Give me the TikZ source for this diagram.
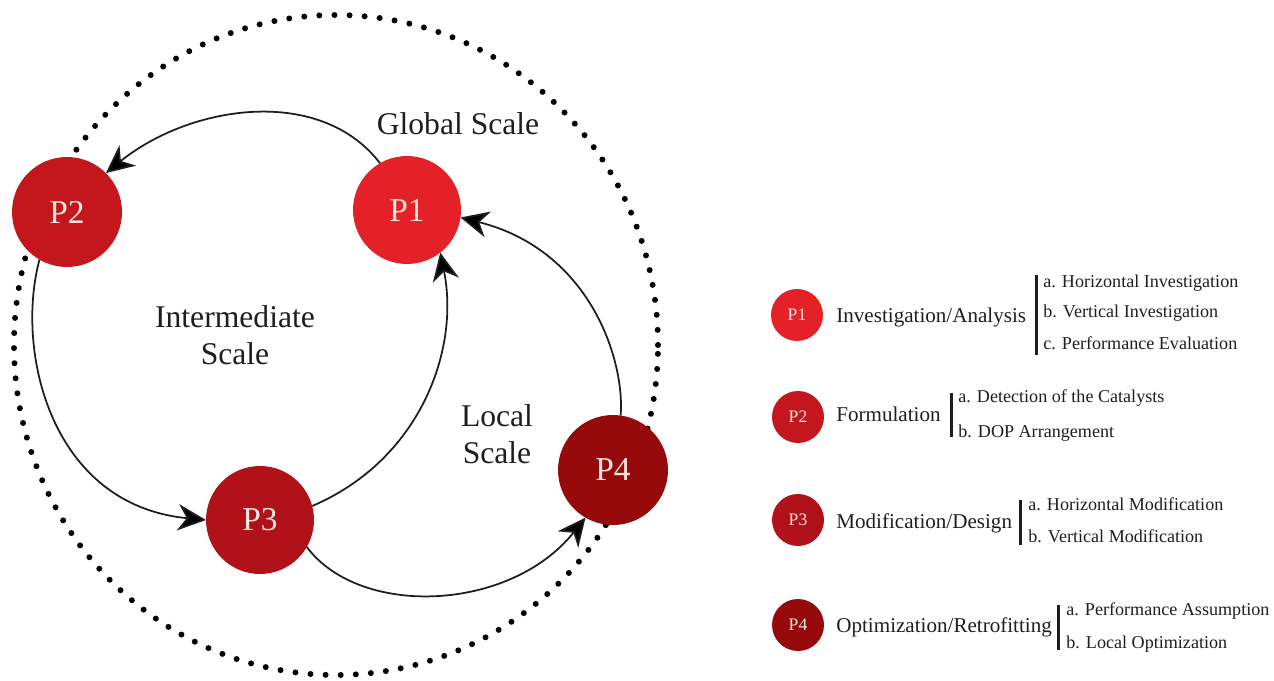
\documentclass[tikz,border=0pt]{standalone}
\usepackage{fontspec}
\setmainfont{Liberation Serif}
\usetikzlibrary{arrows.meta}
\definecolor{cpone}{HTML}{E42127}
\definecolor{cptwo}{HTML}{C3161D}
\definecolor{cpthree}{HTML}{B11219}
\definecolor{cpfour}{HTML}{960A0C}
\definecolor{ptext}{HTML}{F8E6E0}
\definecolor{ink}{HTML}{1E1E1E}
\begin{document}
\begin{tikzpicture}[x=0.02cm,y=0.02cm,
  phase/.style={circle, inner sep=0pt, outer sep=0pt, minimum size=#1, text=ptext},
  big/.style={phase=2.16cm, font=\fontsize{19}{22}\selectfont},
  small/.style={phase=1.04cm, font=\fontsize{10}{12}\selectfont},
  flow/.style={line width=1pt, draw=ink, -{Stealth[length=16pt,width=15pt,inset=5pt,fill=black]}},
  ring/.style={line width=3.4pt, line cap=round, dash pattern=on 0pt off 8.6pt},
  scalelbl/.style={font=\fontsize{18}{21}\selectfont, align=center, text=ink, inner sep=0pt},
  mainlbl/.style={anchor=base west, font=\fontsize{12}{14}\selectfont, inner sep=0pt, text=ink},
  sublbl/.style={anchor=base west, font=\fontsize{10.3}{12}\selectfont, inner sep=0pt, text=ink},
  legbar/.style={line width=1.7pt, draw=ink}]
\useasboundingbox (0,0) rectangle (1274,680);
% dotted ring
\draw[ring] (336,335) ellipse [x radius=322, y radius=330];
% phase nodes
\node[big, fill=cpone] (P1) at (407,470) {P1};
\node[big, fill=cptwo, minimum size=2.2cm] (P2) at (67,468) {P2};
\node[big, fill=cpthree] (P3) at (260,160) {P3};
\node[big, fill=cpfour, minimum size=2.2cm] (P4) at (613,210) {P4};
% connectors
\draw[flow] (P1.120) .. controls (320,595) and (190,575) .. (P2.45);
\draw[flow] (P2.240) .. controls (15,330) and (50,175) .. (P3.180);
\draw[flow] (P3.15) .. controls (420,220) and (460,330) .. (P1.-52);
\draw[flow] (P3.-30) .. controls (360,62) and (510,68) .. (P4.240);
\draw[flow] (P4.82) .. controls (625,320) and (590,430) .. (P1.-8);
% scale labels
\node[scalelbl] (gs) at (458,556) {Global Scale};
\node[scalelbl] (is) at (235,345) {Intermediate\\Scale};
\node[scalelbl] (ls) at (497,246) {Local\\Scale};
% legend
\node[small, fill=cpone] (L1) at (797,365) {P1};
\node[small, fill=cptwo] (L2) at (798,263) {P2};
\node[small, fill=cpthree] (L3) at (798,160) {P3};
\node[small, fill=cpfour] (L4) at (798,55) {P4};
\node[mainlbl] (M1) at (836,357) {Investigation/Analysis};
\node[mainlbl] (M2) at (836,258) {Formulation};
\node[mainlbl] (M3) at (836,152) {Modification/Design};
\node[mainlbl] (M4) at (836,48) {Optimization/Retrofitting};
\draw[legbar] (1036,405) -- (1036,325);
\draw[legbar] (951,287) -- (951,243);
\draw[legbar] (1020,180) -- (1020,135);
\draw[legbar] (1058,75) -- (1058,30);
\node[sublbl] (S1a) at (1043,392) {a. Horizontal Investigation};
\node[sublbl] (S1b) at (1043,362) {b. Vertical Investigation};
\node[sublbl] (S1c) at (1043,330) {c. Performance Evaluation};
\node[sublbl] (S2a) at (958,277) {a. Detection of the Catalysts};
\node[sublbl] (S2b) at (958,243) {b. DOP Arrangement};
\node[sublbl] (S3a) at (1028,170) {a. Horizontal Modification};
\node[sublbl] (S3b) at (1028,138) {b. Vertical Modification};
\node[sublbl] (S4a) at (1066,65) {a. Performance Assumption};
\node[sublbl] (S4b) at (1066,32) {b. Local Optimization};
\end{tikzpicture}
\end{document}
